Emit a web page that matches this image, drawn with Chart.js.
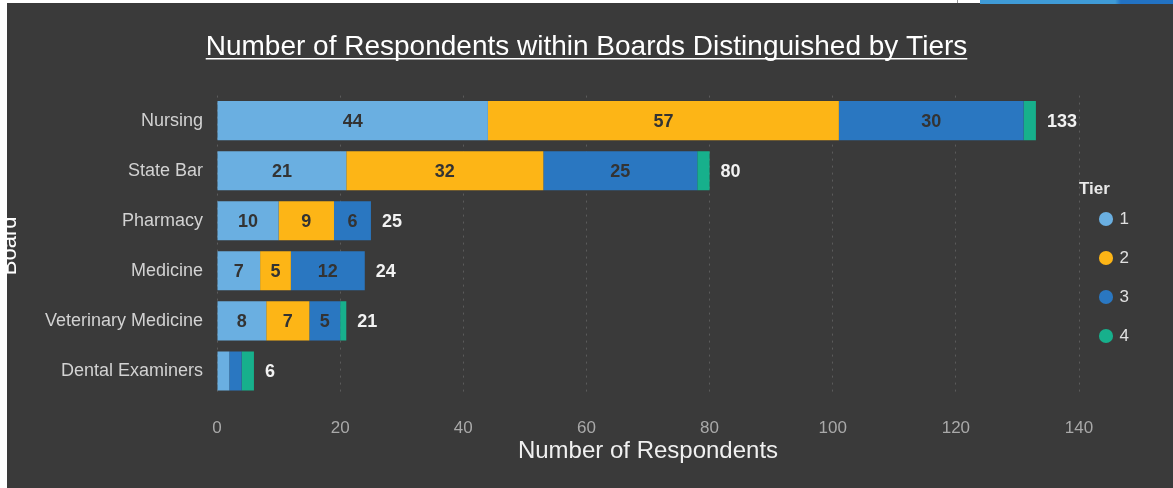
<!DOCTYPE html>
<html>
<head>
<meta charset="utf-8">
<script src="https://cdn.jsdelivr.net/npm/chart.js@4/dist/chart.umd.min.js"></script>
<style>
    html, body { margin: 0; padding: 0; background: #fff; }
    #marco { position: relative; width: 1173px; height: 488px; overflow: hidden; }
    #marco canvas { position: absolute; left: 0; top: 0; }
    .franja { position: absolute; }
</style>
</head>
<body>
<div id="marco">
    <canvas id="grafico-tiers" width="1173" height="488"></canvas>
    <div class="franja" style="left:0;top:0;width:7px;height:488px;background:#fff"></div>
    <div class="franja" style="left:0;top:0;width:1173px;height:3px;background:#fff"></div>
    <div class="franja" style="left:957px;top:0;width:1px;height:3px;background:#999"></div>
    <div class="franja" style="left:980px;top:0;width:193px;height:4px;background:linear-gradient(90deg,#3f9bd7 0%,#3f9bd7 70%,#2272c3 73%,#2272c3 100%)"></div>
</div>
<script>
const BOARDS = ['Nursing', 'State Bar', 'Pharmacy', 'Medicine', 'Veterinary Medicine', 'Dental Examiners'];
const TIERS = ['1', '2', '3', '4'];
const TIER_1 = [44, 21, 10, 7, 8, 2];
const TIER_2 = [57, 32, 9, 5, 7, 0];
const TIER_3 = [30, 25, 6, 12, 5, 2];
const TIER_4 = [2, 2, 0, 0, 1, 2];
const X_MIN = 0, X_MAX = 140, X_STEP = 20;

const COLORES = ['#6aafe1', '#fdb516', '#2a77c1', '#17b08c'];
const FONDO = '#3a3a3a';
const FUENTE = '"Liberation Sans", Arial, sans-serif';
const TITULO = 'Number of Respondents within Boards Distinguished by Tiers';
const TAM_TITULO = 28;

const series = [TIER_1, TIER_2, TIER_3, TIER_4];
const totales = BOARDS.map((_, i) => series.reduce((acc, s) => acc + s[i], 0));

// fondo oscuro de todo el lienzo
const pluginFondo = {
    id: 'fondo',
    beforeDraw: (chart) => {
        const { ctx, width, height } = chart;
        ctx.save();
        ctx.fillStyle = FONDO;
        ctx.fillRect(0, 0, width, height);
        ctx.restore();
    }
};

// ancho fijo del bloque de leyenda para que el área útil termine en x = 1079
const pluginLeyenda = {
    id: 'anchoLeyenda',
    beforeLayout: (chart) => {
        const leg = chart.legend;
        if (!leg || leg._parcheado) return;
        const fit = leg.fit;
        leg.fit = function () { fit.call(this); this.width = 94; };
        leg._parcheado = true;
    }
};

// números dentro de los segmentos, total al final de cada barra y subrayado del título
const pluginEtiquetas = {
    id: 'etiquetas',
    afterDatasetsDraw: (chart) => {
        const { ctx } = chart;
        ctx.save();
        ctx.textBaseline = 'middle';
        ctx.font = `bold 18px ${FUENTE}`;
        ctx.textAlign = 'center';
        ctx.fillStyle = '#333333';
        chart.data.datasets.forEach((ds, i) => {
            chart.getDatasetMeta(i).data.forEach((bar, j) => {
                const v = ds.data[j];
                if (v < 5) return;
                ctx.fillText(String(v), (bar.x + bar.base) / 2, bar.y + 1);
            });
        });
        const ultima = chart.getDatasetMeta(chart.data.datasets.length - 1);
        ctx.textAlign = 'left';
        ctx.fillStyle = '#f2f2f2';
        ultima.data.forEach((bar, j) => {
            ctx.fillText(String(totales[j]), bar.x + 11, bar.y + 1);
        });
        ctx.restore();
    },
    afterDraw: (chart) => {
        const { ctx } = chart;
        const tb = chart.titleBlock;
        if (!tb) return;
        ctx.save();
        ctx.font = `${TAM_TITULO}px ${FUENTE}`;
        const w = ctx.measureText(TITULO).width;
        const cx = (tb.left + tb.right) / 2;
        const y = tb.top + 30 + TAM_TITULO * 0.6 + 12;
        ctx.strokeStyle = '#ffffff';
        ctx.lineWidth = 1.6;
        ctx.beginPath();
        ctx.moveTo(cx - w / 2, y);
        ctx.lineTo(cx + w / 2, y);
        ctx.stroke();
        ctx.restore();
    }
};

new Chart(document.getElementById('grafico-tiers'), {
    type: 'bar',
    data: {
        labels: BOARDS,
        datasets: series.map((s, i) => ({
            label: TIERS[i],
            data: s,
            backgroundColor: COLORES[i],
            borderWidth: 0,
            categoryPercentage: 1,
            barPercentage: 0.78
        }))
    },
    options: {
        indexAxis: 'y',
        responsive: false,
        animation: false,
        devicePixelRatio: 1,
        layout: { padding: 0 },
        scales: {
            x: {
                stacked: true,
                min: X_MIN,
                max: X_MAX,
                ticks: { stepSize: X_STEP, color: '#a9a9a9', font: { family: FUENTE, size: 17 }, padding: 22 },
                grid: { color: 'rgba(255,255,255,0.17)', lineWidth: 1, drawTicks: false, tickBorderDash: [2, 5] },
                border: { display: false, dash: [2, 5] },
                title: {
                    display: true, text: 'Number of Respondents', color: '#f0f0f0',
                    font: { family: FUENTE, size: 24 }, padding: { top: 4, bottom: 22 }
                },
                afterFit: (s) => { s.height = 92; }
            },
            y: {
                stacked: true,
                ticks: { color: '#d2d2d2', font: { family: FUENTE, size: 18 }, padding: 14 },
                grid: { display: false, drawTicks: false },
                border: { display: false },
                title: {
                    display: true, text: 'Board', color: '#ffffff',
                    font: { family: FUENTE, size: 22 }, padding: { top: -3, bottom: 0 }
                },
                afterFit: (s) => { s.width = 217; }
            }
        },
        plugins: {
            title: {
                display: true, text: TITULO, color: '#ffffff',
                font: { family: FUENTE, size: TAM_TITULO, weight: 'normal' },
                padding: { top: 30, bottom: 32 }
            },
            legend: {
                position: 'right',
                fullSize: false,
                align: 'center',
                title: {
                    display: true, text: 'Tier', color: '#e8e8e8', position: 'start',
                    font: { family: FUENTE, size: 17, weight: 'bold' },
                    padding: { top: 56, bottom: -13 }
                },
                labels: {
                    usePointStyle: true, pointStyle: 'circle', boxWidth: 10, boxHeight: 10,
                    color: '#e0e0e0', font: { family: FUENTE, size: 17 }, padding: 22
                }
            },
            tooltip: { enabled: false }
        }
    },
    plugins: [pluginFondo, pluginLeyenda, pluginEtiquetas]
});
</script>
</body>
</html>
